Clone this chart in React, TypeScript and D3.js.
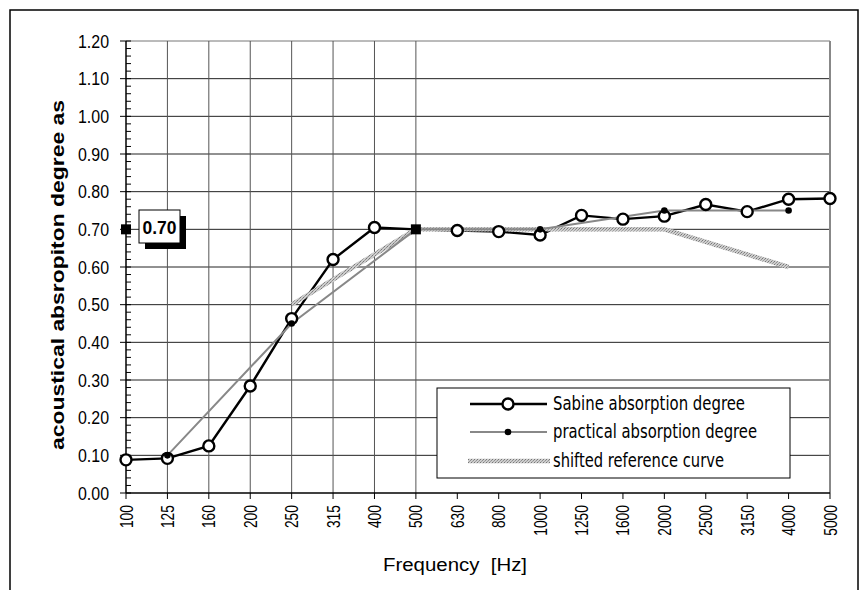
import * as d3 from 'd3';

const freqs = ['100', '125', '160', '200', '250', '315', '400', '500', '630', '800', '1000', '1250', '1600', '2000', '2500', '3150', '4000', '5000'];
const sabine = [0.088, 0.092, 0.125, 0.284, 0.463, 0.62, 0.705, 0.7, 0.697, 0.694, 0.685, 0.737, 0.727, 0.735, 0.766, 0.747, 0.78, 0.782];
const practicalFreqs = ['125', '250', '500', '1000', '2000', '4000'];
const practical = [0.1, 0.45, 0.7, 0.7, 0.75, 0.75];
const refFreqs = ['250', '500', '1000', '2000', '4000'];
const reference = [0.5, 0.7, 0.7, 0.7, 0.6];
const yTicks = [0, 0.1, 0.2, 0.3, 0.4, 0.5, 0.6, 0.7, 0.8, 0.9, 1.0, 1.1, 1.2];
const gridFreqs = ['125', '160', '200', '250', '315', '400', '500'];
const highlight = { freq: '500', value: 0.7, label: '0.70' };

const W = 867;
const H = 590;
const left = 126, right = 830, top = 41, bottom = 493;

const x = d3.scalePoint<string>().domain(freqs).range([left, right]);
const y = d3.scaleLinear().domain([0, 1.2]).range([bottom, top]);

const line = d3.line<[string, number]>()
  .x(d => x(d[0]) as number)
  .y(d => y(d[1]));

const minorTicks = d3.range(0, 121, 2).map(v => v / 100);
const font = 'Liberation Sans, Arial, sans-serif';
const legendFont = 'Liberation Sans Narrow, DejaVu Sans Condensed, Open Sans, sans-serif';

export default function App() {
  const sabinePts: [string, number][] = freqs.map((f, i) => [f, sabine[i]]);
  const practPts: [string, number][] = practicalFreqs.map((f, i) => [f, practical[i]]);
  const refPts: [string, number][] = refFreqs.map((f, i) => [f, reference[i]]);
  const hy = y(highlight.value);
  const hx = x(highlight.freq) as number;

  const legend = [
    { label: 'Sabine absorption degree', w: 192 },
    { label: 'practical absorption degree', w: 204 },
    { label: 'shifted reference curve', w: 171 },
  ];
  const legY = [404, 432, 461];

  return (
    <svg width={W} height={H} style={{ position: 'absolute', left: 0, top: 0, background: '#fff' }}>
      <defs>
        <pattern id="tex" width="3" height="3" patternUnits="userSpaceOnUse">
          <rect width="3" height="3" fill="#cdcdcd" />
          <rect width="1" height="1" fill="#777" />
          <rect x="2" y="1" width="1" height="1" fill="#909090" />
          <rect x="1" y="2" width="1" height="1" fill="#a0a0a0" />
        </pattern>
      </defs>
      <rect x={10} y={10} width={848} height={610} fill="none" stroke="#000" strokeWidth={1.5} />

      {/* horizontal grid */}
      {yTicks.slice(1).map(t => (
        <line key={'h' + t} x1={left} x2={right} y1={y(t)} y2={y(t)} stroke={t === 1.2 ? '#777' : '#222'} strokeWidth={1} />
      ))}
      {/* vertical grid */}
      {gridFreqs.map(f => (
        <line key={'v' + f} x1={x(f)} x2={x(f)} y1={top} y2={bottom} stroke="#555" strokeWidth={1} />
      ))}
      <line x1={right} x2={right} y1={top} y2={bottom} stroke="#888" strokeWidth={2} />

      {/* y axis */}
      <line x1={left} x2={left} y1={top} y2={bottom} stroke="#000" strokeWidth={1.5} />
      {minorTicks.map(t => (
        <line key={'m' + t} x1={left} x2={left + 5} y1={y(t)} y2={y(t)} stroke="#000" strokeWidth={1} />
      ))}
      {yTicks.map(t => (
        <g key={'y' + t}>
          <line x1={left - 6} x2={left} y1={y(t)} y2={y(t)} stroke="#000" strokeWidth={1} />
          <text x={109} y={y(t) + 6.5} textAnchor="end" fontFamily={font} fontSize={18} textLength={31} lengthAdjust="spacingAndGlyphs">{d3.format('.2f')(t)}</text>
        </g>
      ))}

      {/* x axis */}
      <line x1={left} x2={right} y1={bottom} y2={bottom} stroke="#000" strokeWidth={1.5} />
      {freqs.map(f => {
        const px = x(f) as number;
        return (
          <g key={'x' + f}>
            <line x1={px} x2={px} y1={bottom} y2={bottom + 6} stroke="#000" strokeWidth={1} />
            <text transform={`translate(${px + 6.5},505) rotate(-90)`} textAnchor="end" fontFamily={font} fontSize={18}
              textLength={f.length * 7.7} lengthAdjust="spacingAndGlyphs">{f}</text>
          </g>
        );
      })}

      {/* series */}
      <path d={line(sabinePts) ?? ''} fill="none" stroke="#000" strokeWidth={2.4} />
      <path d={line(refPts) ?? ''} fill="none" stroke="url(#tex)" strokeWidth={4.5} />
      <path d={line(practPts) ?? ''} fill="none" stroke="#888" strokeWidth={2} />
      {sabinePts.filter(p => p[0] !== highlight.freq).map(p => (
        <circle key={'s' + p[0]} cx={x(p[0])} cy={y(p[1])} r={5.5} fill="#fff" stroke="#000" strokeWidth={2.4} />
      ))}
      {practPts.filter(p => p[0] !== highlight.freq).map(p => (
        <circle key={'p' + p[0]} cx={x(p[0])} cy={y(p[1])} r={3.3} fill="#000" />
      ))}

      {/* highlighted value */}
      <rect x={hx - 5} y={hy - 5} width={10} height={10} fill="#000" />
      <rect x={left - 5} y={hy - 5} width={10} height={10} fill="#000" />
      <rect x={145} y={216} width={41} height={33} fill="#000" />
      <rect x={139} y={210} width={41} height={33} fill="#fff" stroke="#000" strokeWidth={1} />
      <text x={159.5} y={233.5} textAnchor="middle" fontFamily={font} fontWeight="bold" fontSize={19} textLength={34} lengthAdjust="spacingAndGlyphs">{highlight.label}</text>

      {/* legend */}
      <rect x={437} y={388} width={353} height={90} fill="#fff" stroke="#000" strokeWidth={1} />
      <line x1={470} x2={547} y1={legY[0]} y2={legY[0]} stroke="#000" strokeWidth={2.4} />
      <circle cx={508} cy={legY[0]} r={5.5} fill="#fff" stroke="#000" strokeWidth={2.4} />
      <line x1={470} x2={547} y1={legY[1]} y2={legY[1]} stroke="#888" strokeWidth={2} />
      <circle cx={508} cy={legY[1]} r={3.3} fill="#000" />
      <line x1={468} x2={550} y1={legY[2]} y2={legY[2]} stroke="url(#tex)" strokeWidth={4.5} />
      {legend.map((l, i) => (
        <text key={l.label} x={553} y={legY[i] + 6} fontFamily={legendFont} fontSize={19} textLength={l.w} lengthAdjust="spacingAndGlyphs">{l.label}</text>
      ))}

      {/* titles */}
      <text transform="translate(64,275) rotate(-90)" textAnchor="middle" fontFamily={font} fontWeight="bold" fontSize={18} textLength={350} lengthAdjust="spacingAndGlyphs">acoustical absropiton degree as</text>
      <text x={455} y={571} textAnchor="middle" fontFamily={font} fontSize={18} textLength={144} lengthAdjust="spacingAndGlyphs" style={{ whiteSpace: 'pre' }}>Frequency  [Hz]</text>
    </svg>
  );
}
